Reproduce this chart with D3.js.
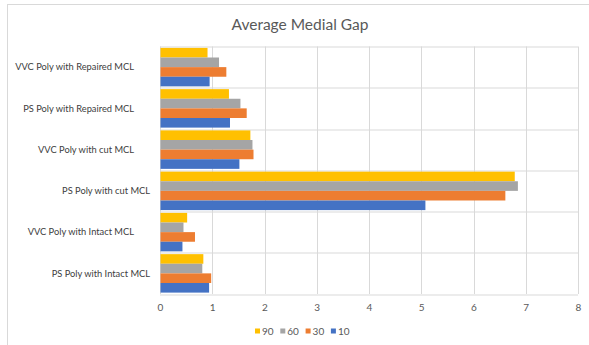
<!DOCTYPE html>
<html>
<head>
<meta charset="utf-8">
<script src="https://cdn.jsdelivr.net/npm/d3@7"></script>
<style>
  body { margin: 0; background: #fff; }
  svg { display: block; font-family: Lato, "Noto Sans", sans-serif; }
</style>
</head>
<body>
<div id="chart"></div>
<script>
// categories, top to bottom as drawn
const categories = [
    "VVC Poly with Repaired MCL",
    "PS Poly with Repaired MCL",
    "VVC Poly with cut MCL",
    "PS Poly with cut MCL",
    "VVC Poly with Intact MCL",
    "PS Poly with Intact MCL"
];

// series (legend order), values per category in the same order as above
const seriesNames = ["90", "60", "30", "10"];
const values90 = [0.90, 1.31, 1.72, 6.78, 0.51, 0.82];
const values60 = [1.12, 1.53, 1.76, 6.84, 0.44, 0.80];
const values30 = [1.26, 1.65, 1.78, 6.60, 0.66, 0.97];
const values10 = [0.94, 1.33, 1.51, 5.07, 0.42, 0.93];
const xTicks = [0, 1, 2, 3, 4, 5, 6, 7, 8];

const colors = { "90": "#FFC000", "60": "#A5A5A5", "30": "#ED7D31", "10": "#4472C4" };
const seriesValues = { "90": values90, "60": values60, "30": values30, "10": values10 };

const W = 589, H = 345;
const margin = { top: 46.5, right: 11, bottom: 51, left: 160 };
const width = W - margin.left - margin.right;
const height = H - margin.top - margin.bottom;

const svg = d3.select("#chart").append("svg")
    .attr("width", W)
    .attr("height", H);

// chart frame
svg.append("rect")
    .attr("x", 7.5).attr("y", 4.5)
    .attr("width", W).attr("height", H)
    .attr("fill", "none")
    .attr("stroke", "#D9D9D9");

svg.append("text")
    .attr("x", 300).attr("y", 30)
    .attr("text-anchor", "middle")
    .attr("fill", "#595959")
    .style("font-size", "15.5px")
    .text("Average Medial Gap");

const g = svg.append("g")
    .attr("transform", `translate(${margin.left},${margin.top})`);

const x = d3.scaleLinear().domain([0, 8]).range([0, width]);
const y0 = d3.scaleBand().domain(categories).range([0, height]).paddingInner(0).paddingOuter(0);
const y1 = d3.scaleBand().domain(seriesNames).range([0, y0.bandwidth()]).paddingInner(0).paddingOuter(0.145);

// vertical grid lines
g.append("g")
    .selectAll("line")
    .data(xTicks)
    .join("line")
    .attr("x1", d => Math.round(x(d)) + 0.5)
    .attr("x2", d => Math.round(x(d)) + 0.5)
    .attr("y1", 0).attr("y2", height)
    .attr("stroke", "#D9D9D9");

// horizontal category separators
g.append("g")
    .selectAll("line")
    .data(categories.concat([null]))
    .join("line")
    .attr("x1", 0).attr("x2", width)
    .attr("y1", (d, i) => Math.round(i * y0.step()) + 0.5)
    .attr("y2", (d, i) => Math.round(i * y0.step()) + 0.5)
    .attr("stroke", "#D9D9D9");

// bars
const groups = g.append("g")
    .selectAll("g")
    .data(categories)
    .join("g")
    .attr("transform", d => `translate(0,${y0(d)})`);

groups.selectAll("rect")
    .data((c, ci) => seriesNames.map(s => ({ s, v: seriesValues[s][ci] })))
    .join("rect")
    .attr("x", x(0) + 0.5)
    .attr("y", d => y1(d.s))
    .attr("width", d => x(d.v) - x(0))
    .attr("height", y1.bandwidth())
    .attr("fill", d => colors[d.s]);

// x axis labels
const xAxis = d3.axisBottom(x).tickValues(xTicks).tickSize(0).tickPadding(10);
const xg = g.append("g")
    .attr("transform", `translate(0,${height})`)
    .call(xAxis);
xg.select(".domain").remove();
xg.selectAll("text")
    .attr("fill", "#595959")
    .style("font-size", "10px")
    .style("font-family", "Lato, sans-serif");

// category labels
const labelRight = { "PS Poly with cut MCL": -10, "PS Poly with Intact MCL": -10 };
g.append("g")
    .selectAll("text")
    .data(categories)
    .join("text")
    .attr("x", d => (labelRight[d] !== undefined ? labelRight[d] : -26))
    .attr("y", d => y0(d) + y0.bandwidth() / 2)
    .attr("dy", "0.35em")
    .attr("text-anchor", "end")
    .attr("fill", "#404040")
    .style("font-size", "9.3px")
    .text(d => d);

// legend
const legend = svg.append("g")
    .attr("transform", "translate(255,331)");
const items = legend.selectAll("g")
    .data(seriesNames)
    .join("g")
    .attr("transform", (d, i) => `translate(${i * 25.3},0)`);
items.append("rect")
    .attr("x", 0).attr("y", -2.5)
    .attr("width", 5).attr("height", 5)
    .attr("fill", d => colors[d]);
items.append("text")
    .attr("x", 7)
    .attr("dy", "0.35em")
    .attr("fill", "#595959")
    .style("font-size", "10px")
    .text(d => d);
</script>
</body>
</html>
